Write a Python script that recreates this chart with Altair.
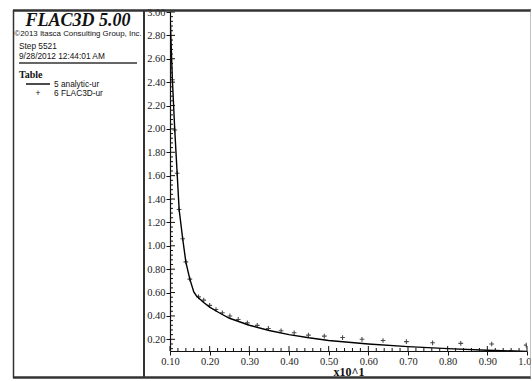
import altair as alt
import pandas as pd

# Radial displacement along the tunnel radius (x10^1 units)
analytic_r = [0.100, 0.106, 0.112, 0.118, 0.123, 0.132, 0.140, 0.150, 0.160, 0.166,
              0.175, 0.185, 0.200, 0.225, 0.250, 0.300, 0.350, 0.400, 0.450, 0.500,
              0.600, 0.700, 0.800, 0.900, 1.000]
analytic_u = [3.00, 2.42, 1.99, 1.62, 1.31, 1.06, 0.86, 0.715, 0.605, 0.575,
              0.545, 0.515, 0.475, 0.425, 0.38, 0.32, 0.275, 0.24, 0.213, 0.19,
              0.16, 0.137, 0.12, 0.107, 0.097]

flac_r = [0.106, 0.112, 0.118, 0.123, 0.132, 0.140, 0.150, 0.172, 0.185, 0.200,
          0.216, 0.232, 0.251, 0.272, 0.295, 0.320, 0.348, 0.380, 0.413, 0.449,
          0.489, 0.535, 0.584, 0.637, 0.696, 0.762, 0.833, 0.911, 0.998]
flac_u = [2.42, 1.99, 1.62, 1.31, 1.06, 0.862, 0.715, 0.563, 0.535, 0.49,
          0.455, 0.427, 0.40, 0.37, 0.341, 0.319, 0.293, 0.273, 0.256, 0.236,
          0.227, 0.215, 0.20, 0.19, 0.18, 0.17, 0.165, 0.16, 0.15]

x_major = [0.1, 0.2, 0.3, 0.4, 0.5, 0.6, 0.7, 0.8, 0.9, 1.0]
y_major = [0.2, 0.4, 0.6, 0.8, 1.0, 1.2, 1.4, 1.6, 1.8, 2.0,
           2.2, 2.4, 2.6, 2.8, 3.0]

W, H = 357, 339
LEFT, TOP = 170, 12
SERIF = "Liberation Serif"
SANS = "Liberation Sans"

xscale = alt.Scale(domain=[0.1, 1.0], nice=False, zero=False)
yscale = alt.Scale(domain=[0.1, 3.0], nice=False, zero=False)

# one shared axis definition per direction, used by every layer so they merge cleanly
xaxis = alt.Axis(values=x_major, format=".2f", title="x10^1",
                 titleFont=SERIF, titleFontSize=12, titleFontWeight="bold",
                 titleColor="#111", titlePadding=0)
yaxis = alt.Axis(values=y_major, format=".2f", title=None)

analytic = pd.DataFrame({"r": analytic_r, "u": analytic_u})
flac = pd.DataFrame({"r": flac_r, "u": flac_u})

x_minor = [round(0.1 + 0.02 * i, 3) for i in range(46)]
x_minor = [v for v in x_minor if all(abs(v - m) > 1e-6 for m in x_major)]
y_minor = [round(0.12 + 0.04 * i, 3) for i in range(73)]
y_minor = [v for v in y_minor if v <= 3.0 and all(abs(v - m) > 1e-6 for m in y_major)]

one = pd.DataFrame({"k": [0]})

line = alt.Chart(analytic).mark_line(color="black", strokeWidth=1.4, clip=True).encode(
    x=alt.X("r:Q", scale=xscale, axis=xaxis),
    y=alt.Y("u:Q", scale=yscale, axis=yaxis),
    order="r:Q",
)

cross = "M-1,0L1,0M0,-1L0,1"
points = alt.Chart(flac).mark_point(shape=cross, size=22, filled=False,
                                     color="black", strokeWidth=1.1, clip=True).encode(
    x=alt.X("r:Q", scale=xscale, axis=xaxis),
    y=alt.Y("u:Q", scale=yscale, axis=yaxis),
)

# inward tick marks on both axes
xminor_rules = alt.Chart(pd.DataFrame({"r": x_minor})).mark_rule(color="#111", strokeWidth=1).encode(
    x=alt.X("r:Q", scale=xscale, axis=xaxis), y=alt.value(H), y2=alt.value(H - 3))
xmajor_rules = alt.Chart(pd.DataFrame({"r": x_major})).mark_rule(color="#111", strokeWidth=1).encode(
    x=alt.X("r:Q", scale=xscale, axis=xaxis), y=alt.value(H), y2=alt.value(H - 5))
yminor_rules = alt.Chart(pd.DataFrame({"u": y_minor})).mark_rule(color="#111", strokeWidth=1).encode(
    y=alt.Y("u:Q", scale=yscale, axis=yaxis), x=alt.value(0), x2=alt.value(3))
ymajor_rules = alt.Chart(pd.DataFrame({"u": y_major})).mark_rule(color="#111", strokeWidth=1).encode(
    y=alt.Y("u:Q", scale=yscale, axis=yaxis), x=alt.value(0), x2=alt.value(5))


def frame_line(x1, y1, x2, y2, color="#222", width=1.5):
    return alt.Chart(one).mark_rule(color=color, strokeWidth=width).encode(
        x=alt.value(x1 - LEFT), x2=alt.value(x2 - LEFT),
        y=alt.value(y1 - TOP), y2=alt.value(y2 - TOP))


def label(text, x, y, size=9, font=SANS, weight="normal", style="normal", align="left"):
    return alt.Chart(one).mark_text(text=text, font=font, fontSize=size, fontWeight=weight,
                                    fontStyle=style, align=align, baseline="alphabetic",
                                    color="#111").encode(
        x=alt.value(x - LEFT), y=alt.value(y - TOP))


frames = [
    frame_line(13, 10.5, 531, 10.5, "#333", 2.5),
    frame_line(13, 377.5, 531, 377.5, "#333", 2.5),
    frame_line(13.5, 10, 13.5, 378, "#333", 1.5),
    frame_line(144, 10, 144, 378, "#333", 2),
    frame_line(531, 10, 531, 378, "#999", 1.2),
    frame_line(19, 63, 137, 63, "#333", 1.5),
    frame_line(26, 84, 50, 84, "#111", 1.5),
]

texts = [
    label("FLAC3D 5.00", 78, 26, size=18, font=SERIF, weight="bold", style="italic", align="center"),
    label("\u00a92013 Itasca Consulting Group, Inc.", 78, 36, size=7.9, align="center"),
    label("Step 5521", 19, 49, size=8.3),
    label("9/28/2012 12:44:01 AM", 19, 59, size=8.3),
    label("Table", 19, 78, size=10, font=SERIF, weight="bold"),
    label("5 analytic-ur", 54, 87, size=8.3),
    label("+", 38, 96, size=8.5, align="center"),
    label("6 FLAC3D-ur", 54, 96, size=8.3),
]

chart = alt.layer(
    line, points, xminor_rules, xmajor_rules, yminor_rules, ymajor_rules, *frames, *texts
).properties(
    width=W, height=H,
    autosize=alt.AutoSizeParams(type="none"),
    padding={"left": LEFT, "top": TOP, "right": 4, "bottom": 30},
    background="white",
).configure_view(stroke=None).configure_axis(
    labelFont=SERIF, labelFontSize=10.5, labelColor="#222", labelPadding=1,
    labelOverlap=False, labelFlush=False, tickSize=4, tickColor="#111",
    domainColor="#111", domainWidth=1.2, grid=False,
)

chart.save("out.html", embed_options={"renderer": "svg", "actions": False})
